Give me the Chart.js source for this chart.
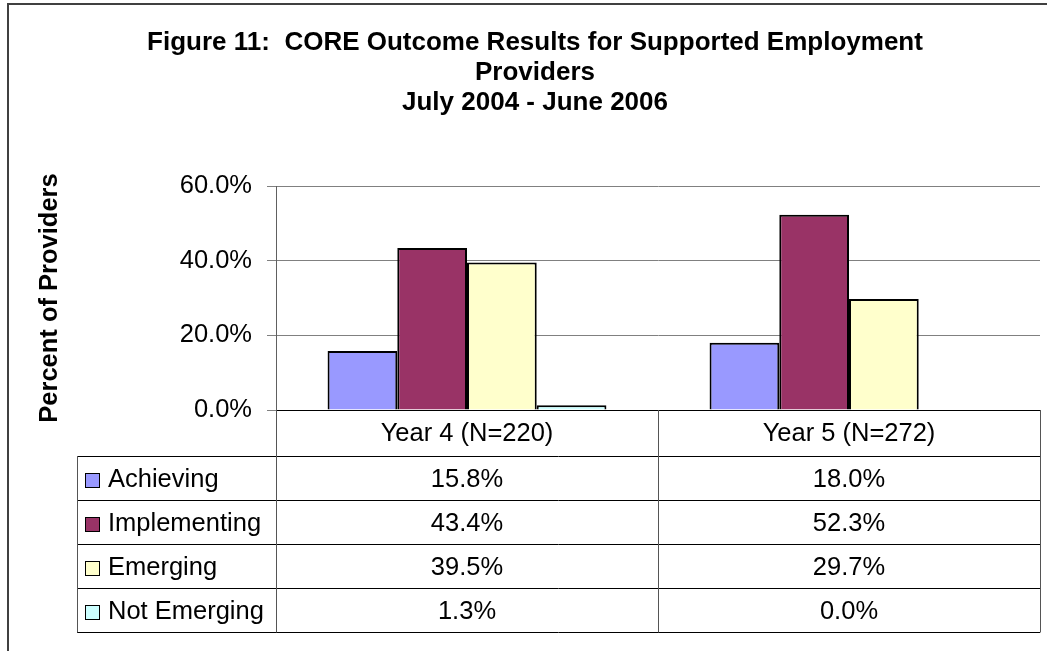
<!DOCTYPE html>
<html>
<head>
<meta charset="utf-8">
<title>CORE Outcome Results</title>
<script src="https://cdn.jsdelivr.net/npm/chart.js@4.4.1/dist/chart.umd.min.js"></script>
<style>
    html, body { margin: 0; padding: 0; background: #fff; }
    #wrap { width: 1047px; height: 651px; position: relative; }
</style>
</head>
<body>
<div id="wrap"><canvas id="coreChart" width="1047" height="651"></canvas></div>
<script>
// Chart data
const titleLines = [
    'Figure 11:  CORE Outcome Results for Supported Employment',
    'Providers',
    'July 2004 - June 2006'
];
const categories = ['Year 4 (N=220)', 'Year 5 (N=272)'];
const seriesNames = ['Achieving', 'Implementing', 'Emerging', 'Not Emerging'];
const achieving = [15.8, 18.0];
const implementing = [43.4, 52.3];
const emerging = [39.5, 29.7];
const notEmerging = [1.3, 0.0];
const yTicks = [0, 20, 40, 60];

const seriesValues = [achieving, implementing, emerging, notEmerging];
const seriesColors = ['#9999FF', '#993366', '#FFFFCC', '#CCFFFF'];

const FONT = "'Liberation Sans', Arial, Helvetica, sans-serif";
const TEXT_SIZE = 25.5;

function fmtPct(v) {
    return v.toFixed(1) + '%';
}

// White background, the outer frame (top and left edges) and the title
const framePlugin = {
    id: 'frame',
    beforeDraw(chart) {
        const ctx = chart.ctx;
        ctx.save();
        ctx.fillStyle = '#fff';
        ctx.fillRect(0, 0, chart.width, chart.height);
        ctx.strokeStyle = '#404040';
        ctx.lineWidth = 2;
        ctx.beginPath();
        ctx.moveTo(8, chart.height);
        ctx.lineTo(8, 4);
        ctx.lineTo(chart.width, 4);
        ctx.stroke();

        // title block, centred inside the frame
        ctx.fillStyle = '#000';
        ctx.font = 'bold 26px ' + FONT;
        ctx.textAlign = 'center';
        ctx.textBaseline = 'middle';
        titleLines.forEach((line, i) => {
            ctx.fillText(line, 535, 43 + i * 30);
        });
        ctx.restore();
    }
};

// Data table under the x axis: one row per series, one column per category
const dataTablePlugin = {
    id: 'dataTable',
    afterDraw(chart) {
        const ctx = chart.ctx;
        const area = chart.chartArea;
        const xScale = chart.scales.x;
        const datasets = chart.data.datasets;
        const nCols = chart.data.labels.length;
        const colW = (area.right - area.left) / nCols;

        const headerBottom = area.bottom + 46;
        const tableBottom = 632;
        const tableLeft = 77;
        const rowH = (tableBottom - headerBottom) / datasets.length;

        ctx.save();

        // horizontal rules
        ctx.strokeStyle = '#000';
        ctx.lineWidth = 1;
        ctx.beginPath();
        for (let r = 0; r <= datasets.length; r++) {
            const y = Math.round(headerBottom + r * rowH) + 0.5;
            ctx.moveTo(tableLeft, y);
            ctx.lineTo(area.right, y);
        }
        ctx.stroke();

        // vertical rules
        ctx.strokeStyle = '#555';
        ctx.beginPath();
        ctx.moveTo(tableLeft + 0.5, headerBottom);
        ctx.lineTo(tableLeft + 0.5, tableBottom + 0.5);
        for (let c = 0; c <= nCols; c++) {
            const x = Math.round(area.left + c * colW) + 0.5;
            ctx.moveTo(x, area.bottom);
            ctx.lineTo(x, tableBottom + 0.5);
        }
        ctx.stroke();

        // row labels with colour keys, and the values
        ctx.font = TEXT_SIZE + 'px ' + FONT;
        ctx.textBaseline = 'middle';
        datasets.forEach((ds, r) => {
            const cy = headerBottom + r * rowH + rowH / 2 + 2;
            ctx.fillStyle = ds.backgroundColor;
            ctx.fillRect(85, cy - 7, 14, 14);
            ctx.strokeStyle = '#000';
            ctx.lineWidth = 1;
            ctx.strokeRect(85.5, cy - 6.5, 14, 14);

            ctx.fillStyle = '#000';
            ctx.textAlign = 'left';
            ctx.fillText(ds.label, 108, cy);

            ctx.textAlign = 'center';
            ds.data.forEach((v, c) => {
                ctx.fillText(fmtPct(v), xScale.getPixelForValue(c), cy);
            });
        });

        ctx.restore();
    }
};

const ctx = document.getElementById('coreChart');

new Chart(ctx, {
    type: 'bar',
    data: {
        labels: categories,
        datasets: seriesNames.map((name, i) => ({
            label: name,
            data: seriesValues[i],
            backgroundColor: seriesColors[i],
            borderColor: '#000',
            borderWidth: 2,
            categoryPercentage: 0.73,
            barPercentage: 1.0
        }))
    },
    options: {
        responsive: false,
        animation: false,
        events: [],
        layout: {
            // room above the plot is taken by the title block
            padding: { top: 186, left: 0, right: 7, bottom: 0 }
        },
        plugins: {
            legend: { display: false },
            tooltip: { enabled: false },
            title: { display: false }
        },
        scales: {
            x: {
                grid: { display: false, drawTicks: false },
                border: { display: true, color: '#000', width: 1 },
                ticks: {
                    color: '#000',
                    padding: 9,
                    maxRotation: 0,
                    font: { family: FONT, size: TEXT_SIZE }
                },
                afterFit(scale) {
                    scale.height = 241;
                }
            },
            y: {
                min: 0,
                max: 60,
                afterBuildTicks(scale) {
                    scale.ticks = yTicks.map(v => ({ value: v }));
                },
                grid: {
                    color: '#808080',
                    lineWidth: 1,
                    drawTicks: true,
                    tickLength: 9
                },
                border: { display: true, color: '#606060', width: 1 },
                ticks: {
                    color: '#000',
                    padding: 15,
                    font: { family: FONT, size: TEXT_SIZE },
                    callback: function(value) {
                        return fmtPct(value);
                    }
                },
                title: {
                    display: true,
                    text: 'Percent of Providers',
                    color: '#000',
                    font: { family: FONT, size: TEXT_SIZE, weight: 'bold', lineHeight: 1.2 },
                    padding: { top: 35, bottom: 0 }
                },
                afterFit(scale) {
                    scale.width = 276;
                }
            }
        }
    },
    plugins: [framePlugin, dataTablePlugin]
});
</script>
</body>
</html>
